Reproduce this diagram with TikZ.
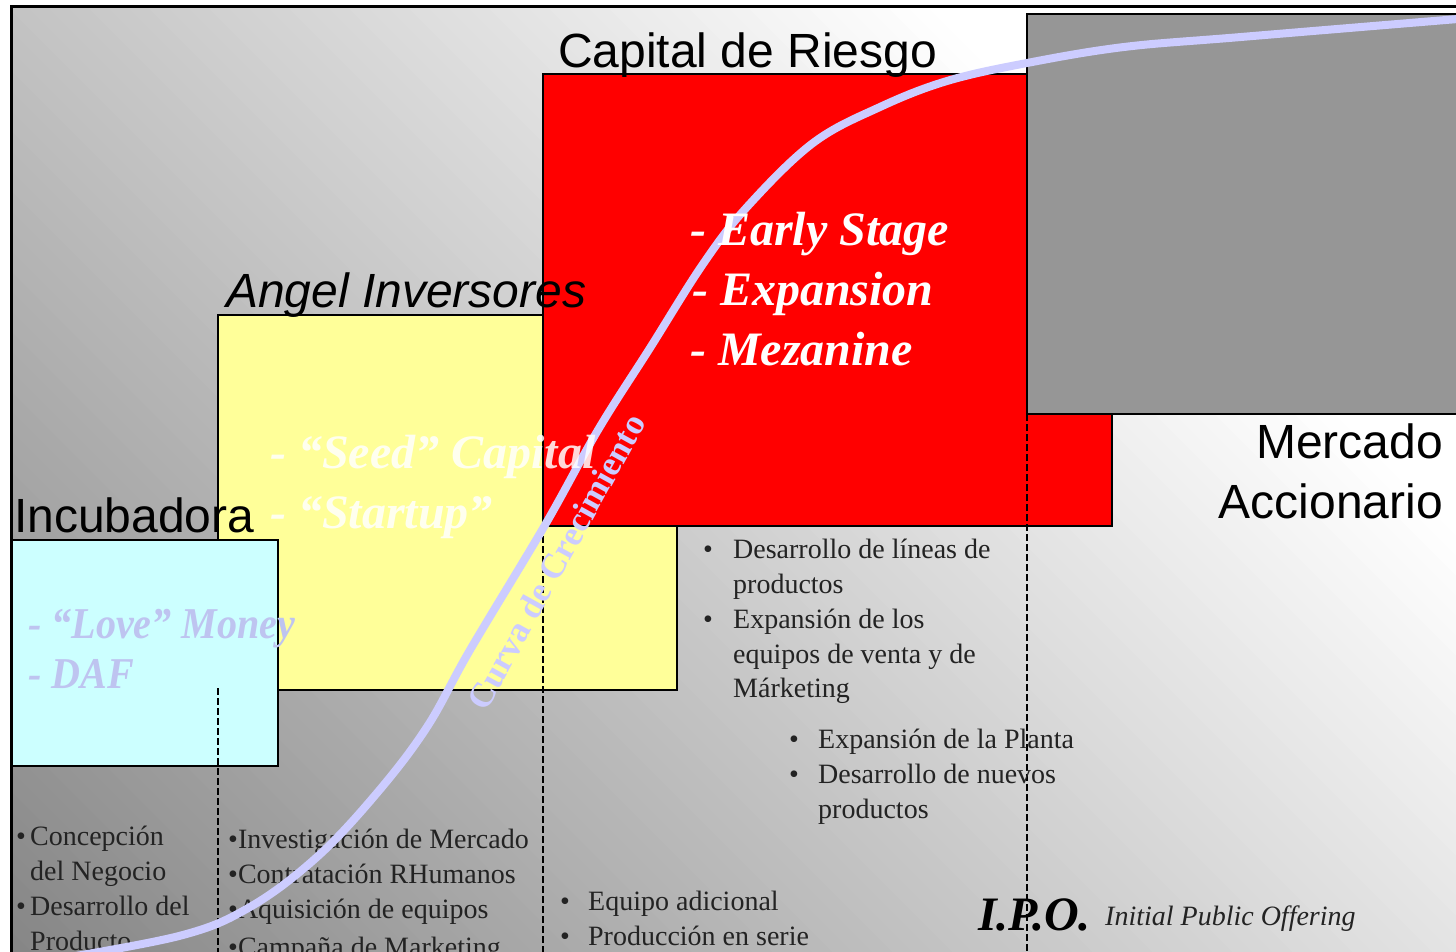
\documentclass[tikz,border=0pt]{standalone}
\usepackage{fontspec}
\setmainfont{Liberation Serif}
\newfontfamily\arialf{Liberation Sans}
\definecolor{curvec}{RGB}{204,204,255}
\definecolor{boxred}{RGB}{255,0,0}
\definecolor{boxyel}{RGB}{255,255,153}
\definecolor{boxcyan}{RGB}{204,255,255}
\definecolor{boxgray}{RGB}{150,150,150}
\definecolor{lovec}{RGB}{190,196,240}
\definecolor{listc}{RGB}{35,35,35}
\begin{document}
\begin{tikzpicture}[x=1pt,y=-1pt,
  boxline/.style={draw=black,line width=2.5pt},
  sanslabel/.style={font=\arialf\fontsize{48}{52}\selectfont,inner sep=0pt,text=black},
  boxtext/.style={font=\bfseries\itshape\fontsize{48}{52}\selectfont,inner sep=0pt,anchor=base west},
  listtext/.style={font=\fontsize{28}{32}\selectfont,inner sep=0pt,anchor=base west,text=listc},
  divider/.style={draw=black,line width=1.3pt,dash pattern=on 7pt off 3pt}]
\useasboundingbox (0,0) rectangle (1456,952);
\clip (0,0) rectangle (1456,952);
% background: diagonal gradient, dark at bottom left, light at top right
\begin{scope}
  \clip (11,7) rectangle (1470,970);
  \foreach \u in {-1000,-980,...,1500} {
    \pgfmathtruncatemacro{\g}{min(255,196+0.065*\u)}
    \fill[color={rgb,255:red,\g;green,\g;blue,\g}]
      (\u-1000,-1000) -- (\u+2000,2000) -- (\u+2021,2000) -- (\u-979,-1000) -- cycle;
  }
\end{scope}
% boxes
\filldraw[boxline,fill=boxyel] (218,315) rectangle (677,690);
\filldraw[boxline,fill=boxred] (543,74) rectangle (1112,526);
\filldraw[boxline,fill=boxgray] (1027,14) rectangle (1480,414);
\filldraw[boxline,fill=boxcyan] (12,540) rectangle (278,766);
% dividers
\coordinate (d1a) at (218,688); \coordinate (d1b) at (218,970);
\coordinate (d2a) at (543,526); \coordinate (d2b) at (543,970);
\coordinate (d3a) at (1027,414); \coordinate (d3b) at (1027,970);
\draw[divider] (d1a) -- (d1b);
\draw[divider] (d2a) -- (d2b);
\draw[divider] (d3a) -- (d3b);
% frame
\draw[line width=3pt] (11,975) -- (11,7) -- (1470,7);
% lists
\node[listtext] (l1) at (16,845) {\makebox[14pt][l]{•}Concepción};
\node[listtext] (l2) at (30,880) {del Negocio};
\node[listtext] (l3) at (16,915) {\makebox[14pt][l]{•}Desarrollo del};
\node[listtext] (l4) at (30,950) {Producto};
\node[listtext] (m1) at (228,848) {•Investigación de Mercado};
\node[listtext] (m2) at (228,883) {•Contratación RHumanos};
\node[listtext] (m3) at (228,918) {•Aquisición de equipos};
\node[listtext] (m4) at (228,956) {•Campaña de Marketing};
\node[listtext] (r1) at (703,558) {\makebox[30pt][l]{•}Desarrollo de líneas de};
\node[listtext] (r2) at (733,593) {productos};
\node[listtext] (r3) at (703,628) {\makebox[30pt][l]{•}Expansión de los};
\node[listtext] (r4) at (733,663) {equipos de venta y de};
\node[listtext] (r5) at (733,697) {Márketing};
\node[listtext] (s1) at (789,748) {\makebox[29pt][l]{•}Expansión de la Planta};
\node[listtext] (s2) at (789,783) {\makebox[29pt][l]{•}Desarrollo de nuevos};
\node[listtext] (s3) at (818,818) {productos};
\node[listtext] (e1) at (560,910) {\makebox[28pt][l]{•}Equipo adicional};
\node[listtext] (e2) at (560,945) {\makebox[28pt][l]{•}Producción en serie};
% growth curve
\draw[curvec,line width=8pt,line cap=round] plot[smooth,tension=0.6] coordinates {
 (40,962) (179,936) (250,907) (317,857) (377,793) (427,727) (470,650) (545,525)
 (598,430) (650,348) (703,264) (747,207) (813,143) (880,107) (947,81) (1027,63)
 (1124,47) (1241,37) (1470,18)};
% IPO
\node[boxtext,text=black] (ipo) at (978,930) {I.P.O.};
\node[listtext,font=\itshape\fontsize{28}{32}\selectfont,text=listc] (ipol) at (1105,925) {Initial Public Offering};
% stage labels
\node[sanslabel,anchor=base west] (cr) at (558,68) {Capital de Riesgo};
\node[sanslabel,anchor=base west,font=\arialf\itshape\fontsize{48}{52}\selectfont] (ai) at (226,307) {Angel Inversores};
\node[sanslabel,anchor=base west] (inc) at (14,532) {Incubadora};
\node[sanslabel,anchor=base east] (mer1) at (1443,458) {Mercado};
\node[sanslabel,anchor=base east] (mer2) at (1443,518) {Accionario};
% box texts
\node[boxtext,text=white] (vc1) at (690,245) {- Early Stage};
\node[boxtext,text=white] (vc2) at (692,305) {- Expansion};
\node[boxtext,text=white] (vc3) at (690,365) {- Mezanine};
\node[boxtext,text=white,opacity=0.85] (an1) at (270,468) {- “Seed” Capital};
\node[boxtext,text=white,opacity=0.85] (an2) at (270,528) {- “Startup”};
\node[boxtext,text=lovec,xscale=0.91,font=\bfseries\itshape\fontsize{44}{48}\selectfont] (lv1) at (28,638) {- “Love” Money};
\node[boxtext,text=lovec,xscale=0.91,font=\bfseries\itshape\fontsize{44}{48}\selectfont] (lv2) at (28,688) {- DAF};
\node[font=\bfseries\fontsize{35}{38}\selectfont,text=curvec,rotate=61,inner sep=0pt] (cc) at (556,562) {Curva de Crecimiento};
\end{tikzpicture}
\end{document}
